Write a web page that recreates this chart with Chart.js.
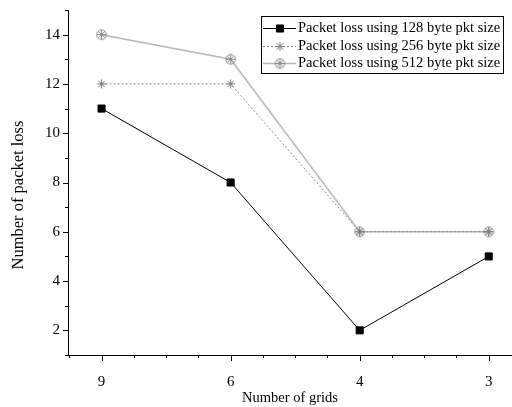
<!DOCTYPE html>
<html>
<head>
<meta charset="utf-8">
<script src="https://cdn.jsdelivr.net/npm/chart.js@4/dist/chart.umd.min.js"></script>
<style>
html,body{margin:0;padding:0;background:#fff;}
#wrap{width:512px;height:407px;position:relative;}
</style>
</head>
<body>
<div id="wrap"><canvas id="c" width="512" height="407"></canvas></div>
<script>
const categories = ['9', '6', '4', '3'];
const loss128 = [11, 8, 2, 5];
const loss256 = [12, 12, 6, 6];
const loss512 = [14, 13, 6, 6];
const seriesNames = [
  'Packet loss using 128 byte pkt size',
  'Packet loss using 256 byte pkt size',
  'Packet loss using 512 byte pkt size'
];
const yMajorTicks = [2, 4, 6, 8, 10, 12, 14];
const xTitle = 'Number of grids';
const yTitle = 'Number of packet loss';

const FONT = '"Liberation Serif", "Times New Roman", serif';

// crossed-circle marker
function makeCrossCircle(color) {
  const s = 13, c = document.createElement('canvas');
  c.width = s; c.height = s;
  const g = c.getContext('2d');
  g.strokeStyle = color; g.lineWidth = 1;
  const m = s / 2, r = 4.8;
  g.beginPath(); g.arc(m, m, r, 0, Math.PI * 2); g.stroke();
  g.beginPath();
  const d = r * 0.72;
  g.moveTo(m - d, m - d); g.lineTo(m + d, m + d);
  g.moveTo(m + d, m - d); g.lineTo(m - d, m + d);
  g.moveTo(m - r, m); g.lineTo(m + r, m);
  g.moveTo(m, m - r); g.lineTo(m, m + r);
  g.stroke();
  return c;
}
const crossCircle = makeCrossCircle('#8e8e8e');

const toPts = arr => arr.map((v, i) => ({x: i, y: v}));

const datasets = [
  {label: seriesNames[0], data: toPts(loss128), borderColor: '#000', backgroundColor: '#000',
   borderWidth: 1, pointStyle: 'rect', pointRadius: 5, pointBorderWidth: 1, pointBorderColor: '#000', pointBackgroundColor: '#000'},
  {label: seriesNames[1], data: toPts(loss256), borderColor: '#8a8a8a', backgroundColor: '#8a8a8a',
   borderWidth: 1, borderDash: [2, 2], pointStyle: 'star', pointRadius: 4.5, pointBorderWidth: 1, pointBorderColor: '#7a7a7a'},
  {label: seriesNames[2], data: toPts(loss512), borderColor: '#b8b8b8', backgroundColor: '#b8b8b8',
   borderWidth: 1.5, pointStyle: crossCircle, pointRadius: 6}
];

const customAxes = {
  id: 'customAxes',
  afterDraw(chart) {
    const ctx = chart.ctx, xs = chart.scales.x, ys = chart.scales.y, a = chart.chartArea;
    ctx.save();
    ctx.strokeStyle = '#000'; ctx.lineWidth = 1;
    ctx.beginPath();
    for (let v = 1; v <= 15; v++) {
      const y = Math.round(ys.getPixelForValue(v)) + 0.5;
      const len = (v % 2 === 0) ? 5 : 3;
      ctx.moveTo(a.left - len, y); ctx.lineTo(a.left, y);
    }
    for (let v = -0.25; v <= xs.max + 1e-6; v += 0.25) {
      const x = Math.round(xs.getPixelForValue(v)) + 0.5;
      const isMajor = Math.abs(v - Math.round(v)) < 1e-6;
      const len = isMajor ? 6 : 3;
      ctx.moveTo(x, a.bottom); ctx.lineTo(x, a.bottom + len);
    }
    ctx.stroke();
    // y axis title
    ctx.save();
    ctx.translate(19, 195);
    ctx.rotate(-Math.PI / 2);
    ctx.fillStyle = '#000';
    ctx.font = '16.5px ' + FONT;
    ctx.textAlign = 'center';
    ctx.textBaseline = 'middle';
    ctx.fillText(yTitle, 0, 0);
    ctx.restore();
    ctx.restore();
  }
};

const customLegend = {
  id: 'customLegend',
  afterDraw(chart) {
    const ctx = chart.ctx;
    const bx = 261.5, by = 16.5, bw = 242, bh = 57;
    ctx.save();
    ctx.fillStyle = '#fff';
    ctx.fillRect(bx, by, bw, bh);
    ctx.strokeStyle = '#000'; ctx.lineWidth = 1;
    ctx.strokeRect(bx, by, bw, bh);
    ctx.font = '14.5px ' + FONT;
    ctx.textBaseline = 'middle';
    const rows = [28, 46, 63];
    chart.data.datasets.forEach((ds, i) => {
      const y = rows[i];
      ctx.save();
      ctx.strokeStyle = ds.borderColor; ctx.lineWidth = ds.borderWidth;
      ctx.setLineDash(ds.borderDash || []);
      ctx.beginPath(); ctx.moveTo(263, y + 0.5); ctx.lineTo(296, y + 0.5); ctx.stroke();
      ctx.restore();
      ctx.save();
      ctx.fillStyle = ds.pointBackgroundColor || ds.backgroundColor;
      ctx.strokeStyle = ds.pointBorderColor || ds.borderColor;
      ctx.lineWidth = ds.pointBorderWidth || 1;
      Chart.helpers.drawPoint(ctx, {pointStyle: ds.pointStyle, rotation: 0, radius: ds.pointRadius,
        borderWidth: ds.pointBorderWidth || 1}, 280, y + 0.5);
      ctx.restore();
      ctx.fillStyle = '#000';
      ctx.fillText(ds.label, 298, y + 0.5);
    });
    ctx.restore();
  }
};

new Chart(document.getElementById('c'), {
  type: 'line',
  data: {datasets},
  options: {
    responsive: false,
    animation: false,
    layout: {autoPadding: false, padding: {top: 10, right: 0, left: 0, bottom: 0}},
    plugins: {legend: {display: false}, tooltip: {enabled: false}},
    scales: {
      x: {
        type: 'linear', min: -0.26, max: 3.18,
        grid: {display: false},
        border: {display: true, color: '#000', width: 1},
        afterFit(s) { s.height = 52; s.paddingLeft = 0; s.paddingRight = 0; },
        ticks: {
          stepSize: 0.25, autoSkip: false, includeBounds: false, maxRotation: 0,
          padding: 10, color: '#000', font: {family: FONT, size: 15},
          callback: v => (Math.abs(v - Math.round(v)) < 1e-6 && categories[Math.round(v)] !== undefined) ? categories[Math.round(v)] : ''
        },
        title: {display: true, text: xTitle, color: '#000', font: {family: FONT, size: 14.5}, padding: {top: 0, bottom: 0}}
      },
      y: {
        min: 1, max: 15,
        grid: {display: false},
        border: {display: true, color: '#000', width: 1},
        afterFit(s) { s.width = 68; s.paddingTop = 0; s.paddingBottom = 0; },
        ticks: {
          stepSize: 1, autoSkip: false, padding: 0, color: '#000', font: {family: FONT, size: 15},
          callback: v => yMajorTicks.includes(v) ? String(v) : ''
        },
        title: {display: false}
      }
    }
  },
  plugins: [customAxes, customLegend]
});
</script>
</body>
</html>
